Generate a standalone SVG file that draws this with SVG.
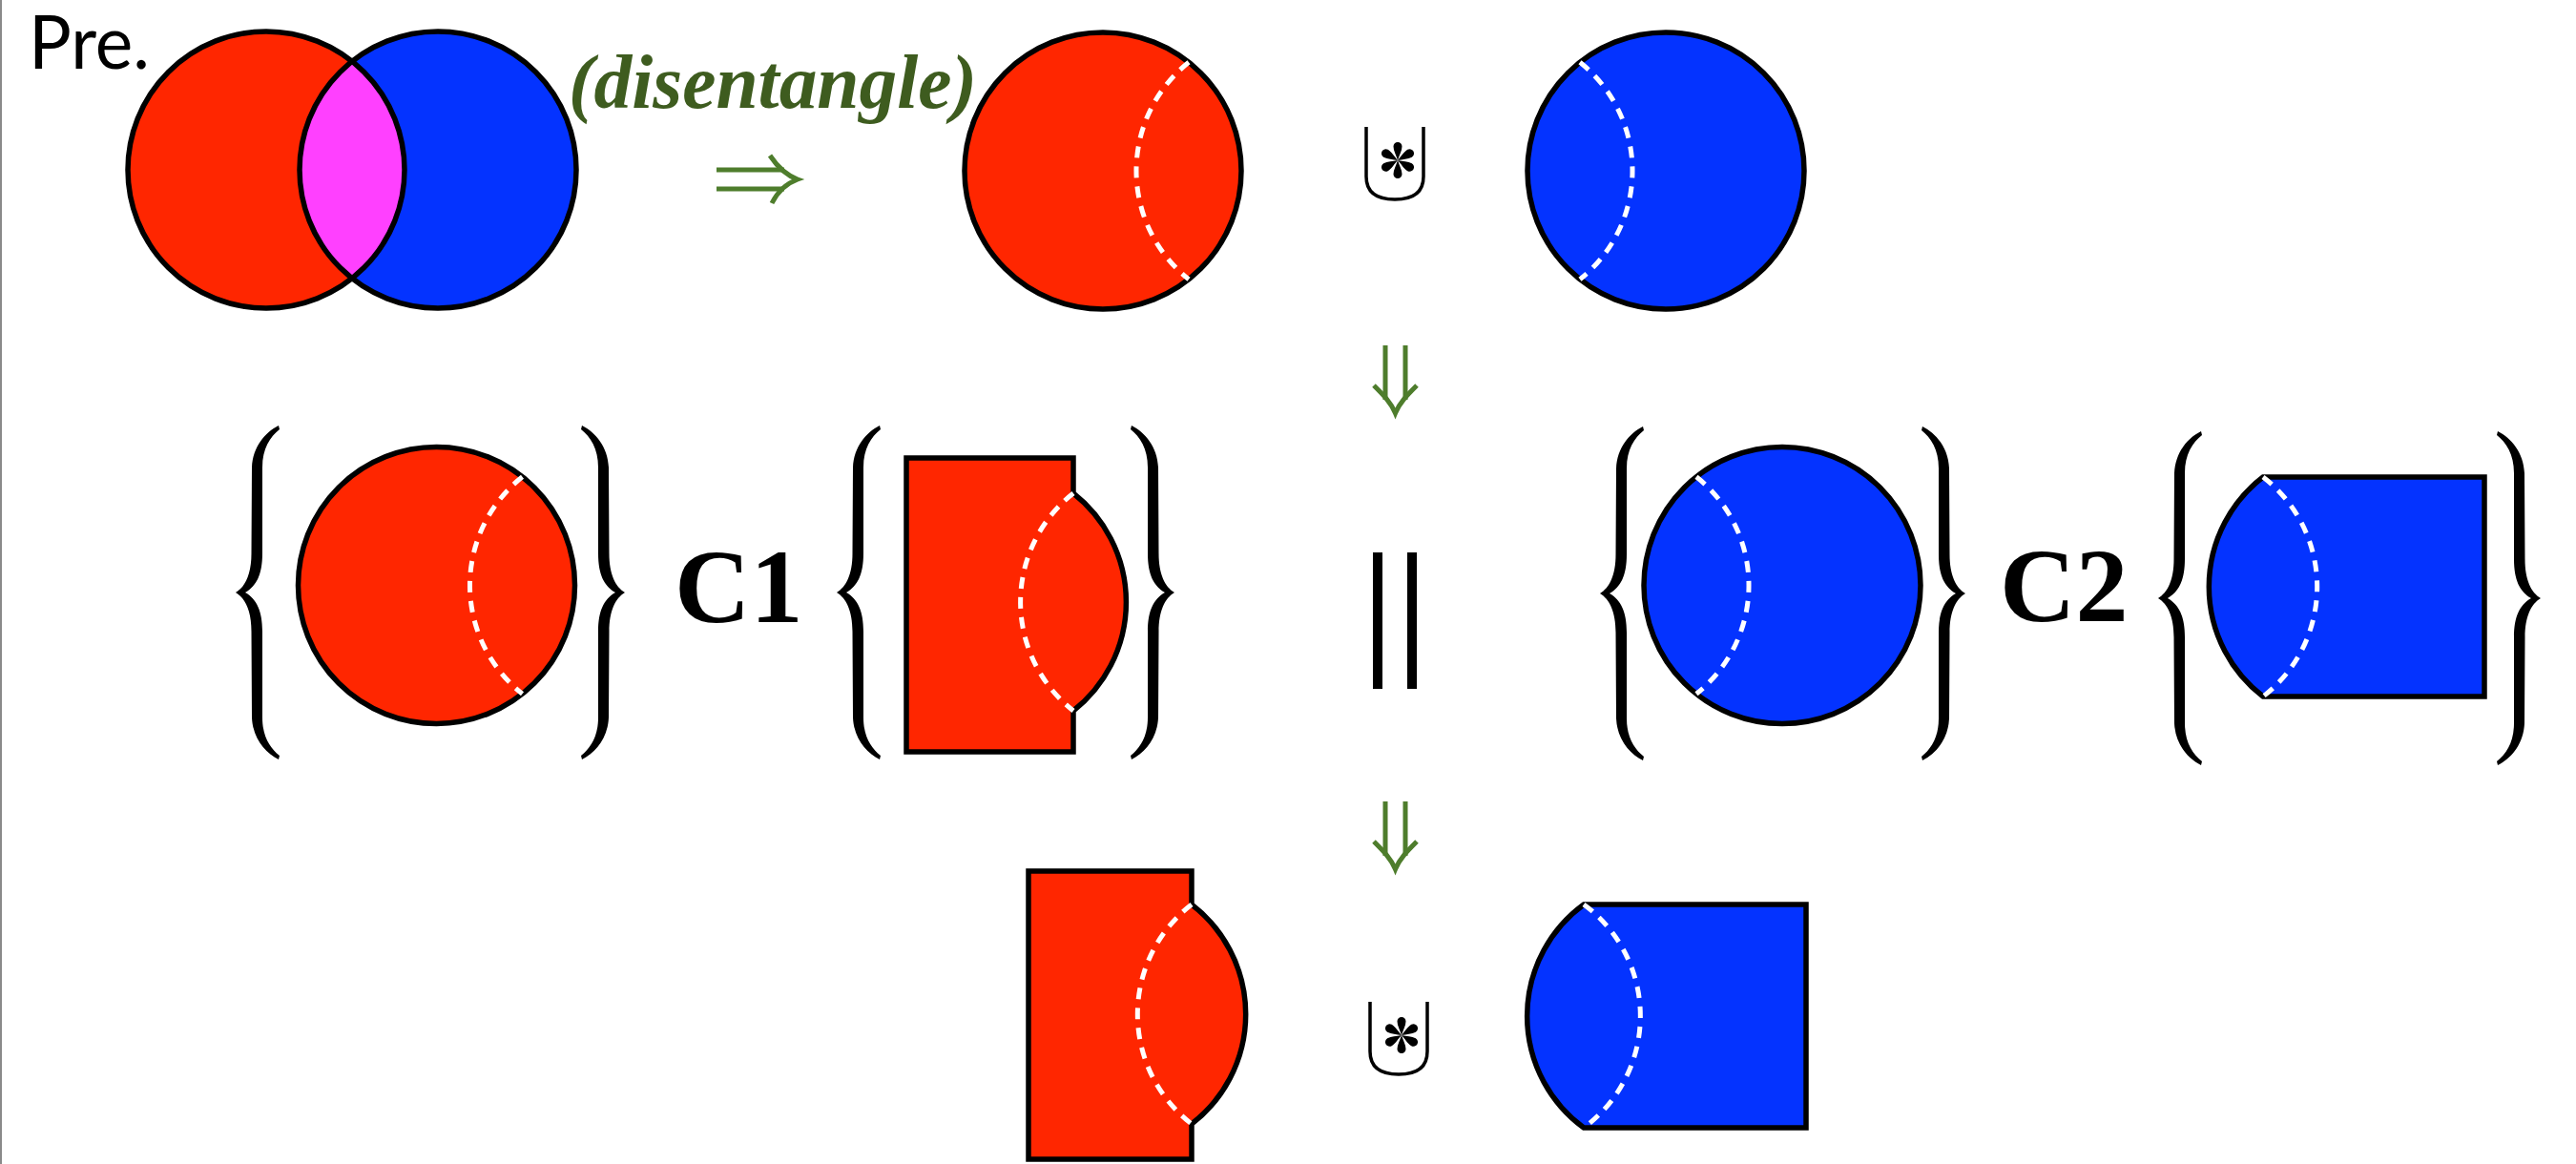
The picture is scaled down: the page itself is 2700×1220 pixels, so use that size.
<svg xmlns="http://www.w3.org/2000/svg" xmlns:xlink="http://www.w3.org/1999/xlink" width="2700" height="1220" viewBox="0 0 2700 1220">
<style>
.red{fill:#ff2600}
.blue{fill:#0433ff}
.ol{stroke:#000;stroke-width:5.5;stroke-linejoin:miter}
.line{fill:none;stroke:#000;stroke-width:5.5}
.dash{fill:none;stroke:#fff;stroke-width:5;stroke-dasharray:12 9}
.arr{fill:none;stroke:#4e7d2c;stroke-width:5}
.serif{font-family:"Liberation Serif","Times New Roman",serif}
</style>
<defs>
<path id="brace" d="M45,0 C31,7 18,22 17,44 L16.5,134 C16.5,156 10,169 0,175 C10,181 16.5,194 16.5,216 L17,306 C18,328 31,343 45,350 L46,346 C36,338 28,326 28,306 L28,216 C28,194 22,182 10,175 C22,168 28,156 28,134 L28,44 C28,24 36,12 46,4 Z" fill="#000"/>
<path id="petal" d="M0,0 C-1.5,-5 -4.5,-10 -4.5,-14.5 A4.5,4.5 0 0 1 4.5,-14.5 C4.5,-10 1.5,-5 0,0 Z" fill="#000"/>
<g id="ast">
<use href="#petal"/><use href="#petal" transform="rotate(60)"/><use href="#petal" transform="rotate(120)"/>
<use href="#petal" transform="rotate(180)"/><use href="#petal" transform="rotate(240)"/><use href="#petal" transform="rotate(300)"/>
</g>
<g id="uplus">
<path d="M-30,-35 V17 C-30,35 -17,41 0,41 C17,41 30,35 30,17 V-35" fill="none" stroke="#000" stroke-width="3.5"/>
<use href="#ast" x="3" y="0"/>
</g>
<g id="darrow">
<path class="arr" d="M1452,840 V897 M1473,840 V897"/>
<path class="arr" d="M1440,882 C1450,892 1458,900 1462.5,911 C1467,900 1475,892 1485,882"/>
</g>
</defs>
<rect width="2700" height="1220" fill="#fff"/>
<rect x="0" y="0" width="2" height="1220" fill="#8a8a8a"/>

<g id="title">
<text x="30" y="72" font-family="Lato,'Open Sans',sans-serif" font-size="78" textLength="127" lengthAdjust="spacingAndGlyphs">Pre.</text>
</g>

<g id="venn">
<circle cx="279" cy="178" r="145" class="red"/>
<circle cx="459" cy="178" r="145" class="blue"/>
<path d="M369,64.3 A145,145 0 0 1 369,291.7 A145,145 0 0 1 369,64.3 Z" fill="#ff40ff"/>
<circle cx="279" cy="178" r="145" class="line"/>
<circle cx="459" cy="178" r="145" class="line"/>
</g>

<g id="label-disentangle">
<text x="810" y="113" text-anchor="middle" class="serif" font-size="80" font-weight="bold" font-style="italic" fill="#3e5c1f" textLength="428" lengthAdjust="spacingAndGlyphs">(disentangle)</text>
</g>

<g id="red-top">
<circle cx="1156" cy="179" r="145" class="red ol"/>
<path class="dash" d="M1246,65.3 A145,145 0 0 0 1246,292.7"/>
</g>

<g id="union-top">
<use href="#uplus" transform="translate(1462,168)"/>
</g>

<g id="blue-top">
<circle cx="1746" cy="179" r="145" class="blue ol"/>
<path class="dash" d="M1656,65.3 A145,145 0 0 1 1656,292.7"/>
</g>

<g id="set-red-circle">
<use href="#brace" transform="translate(247,446)"/>
<circle cx="457.5" cy="613.5" r="145" class="red ol"/>
<path class="dash" d="M547.5,499.8 A145,145 0 0 0 547.5,727.2"/>
<use href="#brace" transform="translate(655,446) scale(-1,1)"/>
</g>

<g id="label-c1">
<text x="707" y="652" class="serif" font-size="110" font-weight="bold">C1</text>
</g>

<g id="set-red-shape">
<use href="#brace" transform="translate(877,446)"/>
<path class="red ol" d="M950,480 H1125 V517 A145,145 0 0 1 1125,745 V788 H950 Z"/>
<path class="dash" d="M1125,517 A145,145 0 0 0 1125,745"/>
<use href="#brace" transform="translate(1231,446) scale(-1,1)"/>
</g>

<g id="equals">
<rect x="1439" y="579" width="10" height="143" fill="#000"/>
<rect x="1475" y="579" width="10" height="143" fill="#000"/>
</g>

<g id="set-blue-circle">
<use href="#brace" transform="translate(1677,447)"/>
<circle cx="1868" cy="613.5" r="145" class="blue ol"/>
<path class="dash" d="M1778,499.8 A145,145 0 0 1 1778,727.2"/>
<use href="#brace" transform="translate(2060,447) scale(-1,1)"/>
</g>

<g id="label-c2">
<text x="2096" y="651" class="serif" font-size="110" font-weight="bold">C2</text>
</g>

<g id="set-blue-shape">
<use href="#brace" transform="translate(2262,452)"/>
<path class="blue ol" d="M2372,500 H2604 V730 H2372 A145,145 0 0 1 2372,500 Z"/>
<path class="dash" d="M2372,500 A145,145 0 0 1 2372,730"/>
<use href="#brace" transform="translate(2663,452) scale(-1,1)"/>
</g>

<g id="red-bottom">
<path class="red ol" d="M1078,913 H1249 V948 A145,145 0 0 1 1249,1178 V1215 H1078 Z"/>
<path class="dash" d="M1249,948 A145,145 0 0 0 1249,1178"/>
</g>

<g id="union-bottom">
<use href="#uplus" transform="translate(1466,1085)"/>
</g>

<g id="blue-bottom">
<path class="blue ol" d="M1660,948 H1893 V1182 H1660 A145,145 0 0 1 1660,948 Z"/>
<path class="dash" d="M1660,948 A145,145 0 0 1 1660,1182"/>
</g>

<g id="connectors">
<g id="arrow-implies">
<path class="arr" d="M751,178 H822 M751,198 H822"/>
<path class="arr" d="M807,163 C815,175 825,184 836,188 C825,192 815,201 809,213"/>
</g>
<use id="arrow-down-1" href="#darrow" transform="translate(0,-478)"/>
<use id="arrow-down-2" href="#darrow"/>
</g>
</svg>
